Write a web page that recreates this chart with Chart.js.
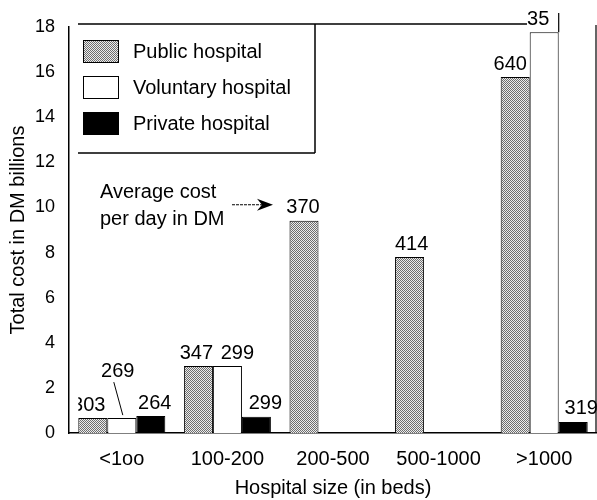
<!DOCTYPE html>
<html><head><meta charset="utf-8">
<script src="https://cdn.jsdelivr.net/npm/chart.js@4/dist/chart.umd.min.js"></script>
<style>html,body{margin:0;padding:0;background:#fff}canvas{display:block}</style>
</head><body>
<canvas id="c" width="597" height="500"></canvas>
<script>
// ---- data ----
const categories = ['<1oo', '100-200', '200-500', '500-1000', '>1000'];
const seriesNames = ['Public hospital', 'Voluntary hospital', 'Private hospital'];
const publicCost = [0.66, 2.97, 9.41, 7.80, 15.78];
const voluntaryCost = [0.66, 2.97, null, null, 17.77];
const privateCost = [0.75, 0.72, null, null, 0.49];
const publicPerDay = ['303', '347', '370', '414', '640'];
const voluntaryPerDay = ['269', '299', '', '', '35'];
const privatePerDay = ['264', '299', '', '', '319'];
const yMax = 18, yStep = 2;
const yTitle = 'Total cost in DM billions';
const xTitle = 'Hospital size (in beds)';
const noteLines = ['Average cost', 'per day in DM'];

// ---- styles ----
const FONT = '"Liberation Sans", Arial, Helvetica, sans-serif';
const labelNudge = [[-4, -2, -1, 2, -5], [-4, 10, 0, 0, -6], [4, 9, 0, 0, 8]];

function stipple() {
  const c = document.createElement('canvas'); c.width = 2; c.height = 2;
  const x = c.getContext('2d');
  x.fillStyle = '#ececec'; x.fillRect(0, 0, 2, 2);
  x.fillStyle = '#6e6e6e'; x.fillRect(0, 0, 1, 1); x.fillRect(1, 1, 1, 1);
  return x.createPattern(c, 'repeat');
}
const pat = stipple();
const fills = [pat, '#ffffff', '#000000'];
const perDay = [publicPerDay, voluntaryPerDay, privatePerDay];

const overlay = {
  id: 'overlay',
  afterDatasetsDraw(chart) {
    const ctx = chart.ctx;
    const area = chart.chartArea;
    ctx.save();
    ctx.font = '20px ' + FONT;
    ctx.fillStyle = '#000';
    ctx.textAlign = 'center';
    ctx.textBaseline = 'middle';
    const firstBar = chart.getDatasetMeta(0).data[0];
    const clipLeft = firstBar.x - firstBar.width / 2;
    ctx.beginPath(); ctx.rect(clipLeft, 0, chart.width, chart.height); ctx.clip();
    perDay.forEach((labels, s) => {
      const meta = chart.getDatasetMeta(s);
      labels.forEach((t, i) => {
        if (!t) return;
        const b = meta.data[i];
        if (s === 1 && i === 0) {
          ctx.fillText(t, b.x + labelNudge[s][i], b.y - 47);
          ctx.save(); ctx.lineWidth = 1; ctx.strokeStyle = '#000';
          ctx.beginPath(); ctx.moveTo(b.x - 8, b.y - 36); ctx.lineTo(b.x + 1, b.y - 3); ctx.stroke();
          ctx.restore();
        } else {
          ctx.fillText(t, b.x + labelNudge[s][i], b.y - 13);
        }
      });
    });
    ctx.restore();

    // annotation with arrow pointing to the 200-500 label
    ctx.save();
    const b = chart.getDatasetMeta(0).data[2];
    const ay = b.y - 16;
    const tipX = b.x - 31;
    ctx.font = '20px ' + FONT;
    ctx.fillStyle = '#000';
    ctx.textBaseline = 'middle';
    ctx.textAlign = 'left';
    ctx.fillText(noteLines[0], 100, ay - 12);
    ctx.fillText(noteLines[1], 100, ay + 15);
    ctx.strokeStyle = '#000'; ctx.lineWidth = 1; ctx.setLineDash([3, 1]);
    ctx.beginPath(); ctx.moveTo(tipX - 41, ay); ctx.lineTo(tipX - 10, ay); ctx.stroke();
    ctx.setLineDash([]);
    ctx.beginPath();
    ctx.moveTo(tipX, ay); ctx.lineTo(tipX - 16, ay - 6); ctx.lineTo(tipX - 11, ay); ctx.lineTo(tipX - 16, ay + 6);
    ctx.closePath(); ctx.fill();
    ctx.restore();

    // legend box
    ctx.save();
    ctx.strokeStyle = '#000'; ctx.lineWidth = 1.5;
    ctx.beginPath();
    ctx.moveTo(78, 24); ctx.lineTo(527, 24);
    ctx.moveTo(315, 24); ctx.lineTo(315, 153);
    ctx.moveTo(78, 153); ctx.lineTo(315, 153);
    ctx.stroke();
    ctx.font = '20px ' + FONT; ctx.textBaseline = 'middle'; ctx.textAlign = 'left'; ctx.fillStyle = '#000';
    seriesNames.forEach((n, s) => {
      const y = 51 + s * 36;
      ctx.fillStyle = fills[s];
      ctx.fillRect(83, y - 11, 36, 23);
      ctx.lineWidth = 1; ctx.strokeStyle = '#000';
      ctx.strokeRect(83.5, y - 10.5, 35, 22);
      ctx.fillStyle = '#000';
      ctx.fillText(n, 133, y + 1);
    });
    const vb = chart.getDatasetMeta(1).data[4];
    ctx.lineWidth = 1.2;
    ctx.beginPath();
    ctx.moveTo(vb.x + vb.width / 2, 13); ctx.lineTo(vb.x + vb.width / 2, vb.y);
    ctx.moveTo(area.right - 1, 25); ctx.lineTo(area.right - 1, area.bottom);
    ctx.stroke();
    ctx.restore();
  }
};

new Chart(document.getElementById('c'), {
  type: 'bar',
  data: {
    labels: categories,
    datasets: [
      { label: seriesNames[0], data: publicCost, backgroundColor: pat },
      { label: seriesNames[1], data: voluntaryCost, backgroundColor: '#ffffff' },
      { label: seriesNames[2], data: privateCost, backgroundColor: '#000000' }
    ].map(d => Object.assign(d, { borderColor: '#000', borderWidth: 1, barPercentage: 1, categoryPercentage: 0.824 }))
  },
  options: {
    responsive: false,
    animation: false,
    devicePixelRatio: 1,
    layout: { padding: { top: 27, left: 0, right: 0, bottom: 0 } },
    plugins: { legend: { display: false }, tooltip: { enabled: false } },
    scales: {
      x: {
        grid: { display: false, drawTicks: false },
        border: { display: true, color: '#000', width: 1.5 },
        ticks: { color: '#000', font: { size: 20, family: FONT }, padding: 14, maxRotation: 0, autoSkip: false },
        title: { display: true, text: xTitle, color: '#000', font: { size: 20, family: FONT }, padding: { top: 0, bottom: 0 } },
        afterFit(s) { s.height = 67; }
      },
      y: {
        min: 0, max: yMax,
        grid: { display: false, drawTicks: false },
        border: { display: true, color: '#000', width: 1.5 },
        ticks: { stepSize: yStep, color: '#000', font: { size: 18, family: FONT }, padding: 14 },
        title: { display: true, text: yTitle, color: '#000', font: { size: 20, family: FONT }, padding: { top: 6, bottom: 0 } },
        afterFit(s) { s.width = 69; }
      }
    }
  },
  plugins: [overlay]
});
</script>
</body></html>
